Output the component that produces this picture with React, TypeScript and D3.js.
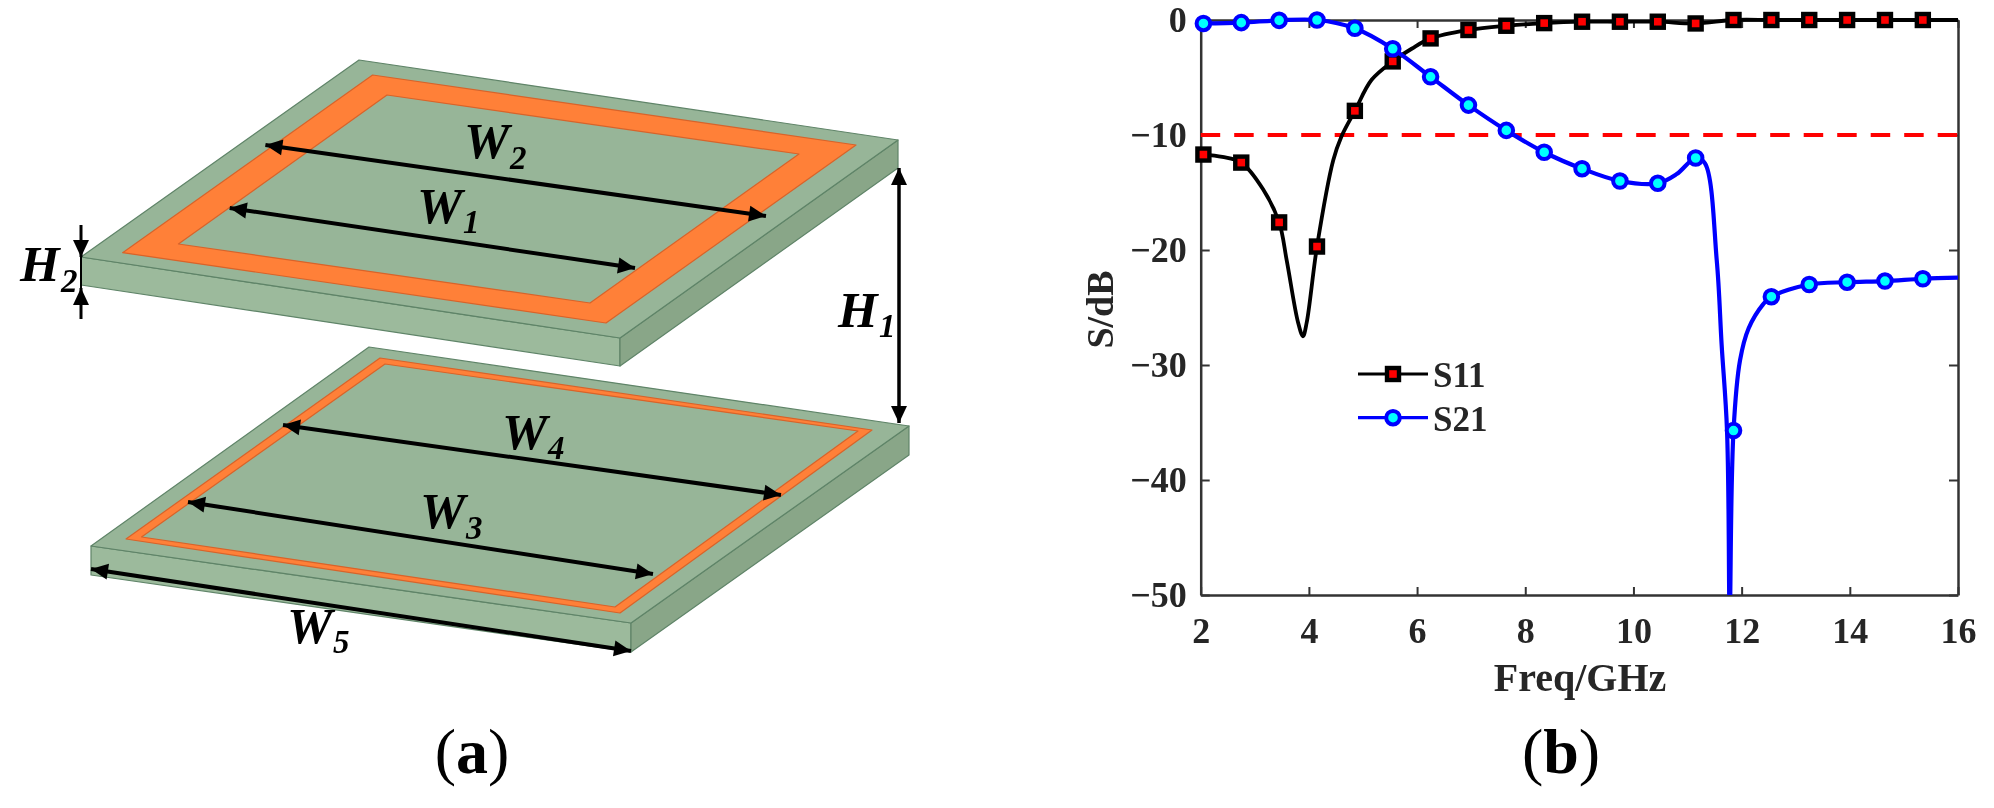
import * as d3 from 'd3';
import React, { useEffect, useRef } from 'react';

const SERIF = '"Liberation Serif", serif';

// ---- panel (b) values
const xTicks = [2, 4, 6, 8, 10, 12, 14, 16];
const yTicks = [0, -10, -20, -30, -40, -50];
const threshold = -10;

const markerFreq = [2.05, 2.75, 3.45, 4.15, 4.85, 5.55, 6.25, 6.95, 7.65, 8.35, 9.05, 9.75, 10.45, 11.15, 11.85, 12.55, 13.25, 13.95, 14.65, 15.35];
const s11Marker = [-11.7, -12.4, -17.6, -19.7, -7.9, -3.6, -1.6, -0.87, -0.5, -0.27, -0.15, -0.15, -0.15, -0.3, 0, 0, 0, 0, 0, 0];
const s21Marker = [-0.3, -0.23, -0.03, 0, -0.72, -2.5, -4.94, -7.4, -9.6, -11.5, -12.93, -14.0, -14.2, -12.0, -35.7, -24.06, -23.0, -22.8, -22.7, -22.5];

// extra points between the markers, where the curves bend hard
const s11ExtraFreq = [2.4, 3.15, 3.59, 3.8, 3.89, 3.96, 4.45, 4.6, 5.16, 5.9, 16];
const s11Extra = [-11.9, -14.7, -20.9, -26.3, -27.5, -26.3, -12.2, -10.15, -5.2, -2.5, 0];
const s21ExtraFreq = [10.8, 11.32, 11.54, 11.63, 11.73, 11.77, 11.78, 11.79, 11.97, 12.13, 12.4, 16];
const s21Extra = [-13.4, -12.45, -20.9, -28.2, -35.7, -50, -56, -50, -29.6, -26.8, -24.7, -22.4];

const legendLabels = ['S11', 'S21'];

// ---- panel (a) schematic outlines, [top, right, front, left]
const topBoard = [[359, 60], [898, 140], [620, 338], [81, 257]];
const topOuter = [[372.6, 75], [856, 145], [606, 323], [122.6, 252.7]];
const topInner = [[387, 95], [799, 154], [590, 303], [178.4, 244]];
const lowBoard = [[369, 347], [909, 426], [631, 623], [91, 546]];
const lowOuter = [[380, 358], [872, 430], [620, 613], [126, 539]];
const lowInner = [[385, 364], [858, 431], [615, 607], [141.5, 537]];

const arrows = [
	{ from: [265.4, 145], to: [766, 216], both: true, w: 4 },
	{ from: [229.7, 208], to: [635, 268], both: true, w: 4 },
	{ from: [283, 425], to: [781, 495], both: true, w: 4 },
	{ from: [188, 502], to: [653, 574], both: true, w: 4 },
	{ from: [91, 569], to: [631, 651], both: true, w: 4 },
	{ from: [899, 168], to: [899, 423], both: true, w: 3.5 },
	{ from: [81, 225], to: [81, 257], both: false, w: 3 },
	{ from: [81, 319], to: [81, 288], both: false, w: 3 },
];

const dimLabels = [
	{ main: 'W', sub: '2', x: 464, y: 158, sx: 510, sy: 169 },
	{ main: 'W', sub: '1', x: 417, y: 223, sx: 463, sy: 233 },
	{ main: 'W', sub: '4', x: 502, y: 449, sx: 548, sy: 459 },
	{ main: 'W', sub: '3', x: 420, y: 528, sx: 466, sy: 539 },
	{ main: 'W', sub: '5', x: 287, y: 643, sx: 333, sy: 653 },
	{ main: 'H', sub: '2', x: 20, y: 281, sx: 61, sy: 292 },
	{ main: 'H', sub: '1', x: 838, y: 327, sx: 879, sy: 337 },
];

const mergeCurve = (fa: number[], va: number[], fb: number[], vb: number[]) => {
	const pts = fa.map((f, i) => ({ f, v: va[i] })).concat(fb.map((f, i) => ({ f, v: vb[i] })));
	return pts.sort((a, b) => d3.ascending(a.f, b.f));
};

export default function App() {
	const ref = useRef<SVGSVGElement>(null);

	useEffect(() => {
		const svg = d3.select(ref.current);
		svg.selectAll('*').remove();

		drawSchematic(svg);
		drawPlot(svg);

		// captions
		const caption = (x: number, y: number, letter: string) => {
			const t = svg.append('text')
				.attr('x', x).attr('y', y)
				.attr('text-anchor', 'middle')
				.style('font-family', SERIF)
				.style('font-size', '64px')
				.attr('fill', '#000');
			t.append('tspan').text('(');
			t.append('tspan').style('font-weight', 700).text(letter);
			t.append('tspan').text(')');
		};
		caption(472, 773, 'a');
		caption(1561, 773, 'b');
	}, []);

	return (
		<svg ref={ref} width={1994} height={808} style={{ position: 'absolute', left: 0, top: 0, background: '#fff', filter: 'blur(0.6px)' }} />
	);
}

function drawSchematic(svg: any) {
	const poly = (pts: number[][], fill: string, stroke: string, sw = 1.2) =>
		svg.append('polygon')
			.attr('points', pts.map(p => p.join(',')).join(' '))
			.attr('fill', fill)
			.attr('stroke', stroke)
			.attr('stroke-width', sw)
			.attr('stroke-linejoin', 'round');

	const board = (b: number[][], outer: number[][], inner: number[][], th: number) => {
		const [top, right, front, left] = b;
		const down = (p: number[]) => [p[0], p[1] + th];
		poly([left, front, down(front), down(left)], '#9cba9c', '#5f8468');
		poly([front, right, down(right), down(front)], '#89a688', '#5f8468');
		poly([top, right, front, left], '#97b598', '#5f8468');
		poly(outer, '#ff8038', '#d8632a');
		poly(inner, '#97b598', '#d8632a');
	};

	board(topBoard, topOuter, topInner, 28);
	board(lowBoard, lowOuter, lowInner, 29);

	// short thickness line for H2
	svg.append('line')
		.attr('x1', 81).attr('y1', 257).attr('x2', 81).attr('y2', 288)
		.attr('stroke', '#000').attr('stroke-width', 2);

	const head = (tip: number[], from: number[]) => {
		const a = Math.atan2(tip[1] - from[1], tip[0] - from[0]);
		const len = 17, half = 8;
		const bx = tip[0] - len * Math.cos(a), by = tip[1] - len * Math.sin(a);
		const p = [
			tip,
			[bx - half * Math.sin(a), by + half * Math.cos(a)],
			[bx + half * Math.sin(a), by - half * Math.cos(a)],
		];
		svg.append('polygon').attr('points', p.map(q => q.join(',')).join(' ')).attr('fill', '#000');
	};

	arrows.forEach(d => {
		svg.append('line')
			.attr('x1', d.from[0]).attr('y1', d.from[1])
			.attr('x2', d.to[0]).attr('y2', d.to[1])
			.attr('stroke', '#000').attr('stroke-width', d.w);
		head(d.to, d.from);
		if (d.both) head(d.from, d.to);
	});

	dimLabels.forEach(d => {
		svg.append('text')
			.attr('x', d.x).attr('y', d.y)
			.style('font-family', SERIF).style('font-style', 'italic').style('font-weight', 700)
			.style('font-size', '51px')
			.text(d.main);
		svg.append('text')
			.attr('x', d.sx).attr('y', d.sy)
			.style('font-family', SERIF).style('font-style', 'italic').style('font-weight', 700)
			.style('font-size', '33px')
			.text(d.sub);
	});
}

function drawPlot(svg: any) {
	const x = d3.scaleLinear().domain([2, 16]).range([1200.7, 1958]);
	const y = d3.scaleLinear().domain([0, -50]).range([20, 595]);
	const axisColor = '#333';
	const textColor = '#262626';

	const styleAxis = (g: any, size: number) => {
		g.selectAll('.domain').attr('stroke', axisColor).attr('stroke-width', 2.5);
		g.selectAll('.tick line').attr('stroke', axisColor).attr('stroke-width', 2);
		g.selectAll('.tick text')
			.attr('fill', textColor)
			.style('font-family', SERIF).style('font-weight', 700).style('font-size', size + 'px');
	};

	// box: the labelled axes plus unlabelled copies on top and right
	const bottom = svg.append('g').attr('transform', `translate(0,${y(-50)})`)
		.call(d3.axisBottom(x).tickValues(xTicks).tickSizeInner(-8).tickSizeOuter(0).tickPadding(22).tickFormat(d3.format('d')));
	styleAxis(bottom, 36);

	const left = svg.append('g').attr('transform', `translate(${x(2)},0)`)
		.call(d3.axisLeft(y).tickValues(yTicks).tickSizeInner(-9).tickSizeOuter(0).tickPadding(14).tickFormat(d3.format('d')));
	styleAxis(left, 36);

	const top = svg.append('g').attr('transform', `translate(0,${y(0)})`)
		.call(d3.axisTop(x).tickValues(xTicks).tickSizeInner(-8).tickSizeOuter(0).tickFormat(() => ''));
	styleAxis(top, 36);

	const right = svg.append('g').attr('transform', `translate(${x(16)},0)`)
		.call(d3.axisRight(y).tickValues(yTicks).tickSizeInner(-9).tickSizeOuter(0).tickFormat(() => ''));
	styleAxis(right, 36);

	svg.append('text')
		.attr('x', 1580).attr('y', 691)
		.attr('text-anchor', 'middle')
		.attr('fill', textColor)
		.style('font-family', SERIF).style('font-weight', 700).style('font-size', '40px')
		.text('Freq/GHz');

	svg.append('text')
		.attr('transform', 'translate(1113,309.5) rotate(-90)')
		.attr('text-anchor', 'middle')
		.attr('fill', textColor)
		.style('font-family', SERIF).style('font-weight', 700).style('font-size', '38px')
		.text('S/dB');

	svg.append('line')
		.attr('x1', x(2)).attr('x2', x(16))
		.attr('y1', y(threshold)).attr('y2', y(threshold))
		.attr('stroke', '#ff0000').attr('stroke-width', 4)
		.attr('stroke-dasharray', '19.5 14');

	svg.append('clipPath').attr('id', 'plot-clip')
		.append('rect').attr('x', 1180).attr('y', 0).attr('width', 800).attr('height', y(-50));

	const line = d3.line<{ f: number; v: number }>()
		.x(d => x(d.f))
		.y(d => y(d.v))
		.curve(d3.curveCatmullRom.alpha(0.5));

	const squares = (g: any, px: number, py: number) =>
		g.append('rect')
			.attr('x', px - 6).attr('y', py - 6).attr('width', 12).attr('height', 12)
			.attr('fill', '#ff0000').attr('stroke', '#000').attr('stroke-width', 4.4);
	const circles = (g: any, px: number, py: number) =>
		g.append('circle')
			.attr('cx', px).attr('cy', py).attr('r', 6.8)
			.attr('fill', '#00ffff').attr('stroke', '#0000ff').attr('stroke-width', 4);

	svg.append('path')
		.attr('d', line(mergeCurve(markerFreq, s11Marker, s11ExtraFreq, s11Extra)))
		.attr('fill', 'none').attr('stroke', '#000').attr('stroke-width', 3.8);
	markerFreq.forEach((f, i) => squares(svg, x(f), y(s11Marker[i])));

	svg.append('path')
		.attr('clip-path', 'url(#plot-clip)')
		.attr('d', line(mergeCurve(markerFreq, s21Marker, s21ExtraFreq, s21Extra)))
		.attr('fill', 'none').attr('stroke', '#0000ff').attr('stroke-width', 4.2);
	markerFreq.forEach((f, i) => circles(svg, x(f), y(s21Marker[i])));

	// legend
	const legendY = [374, 417.7];
	const legendBaseline = [387, 431];
	legendLabels.forEach((label, i) => {
		svg.append('line')
			.attr('x1', 1358).attr('x2', 1428)
			.attr('y1', legendY[i]).attr('y2', legendY[i])
			.attr('stroke', i === 0 ? '#000' : '#0000ff').attr('stroke-width', 3.2);
		(i === 0 ? squares : circles)(svg, 1393, legendY[i]);
		svg.append('text')
			.attr('x', 1433).attr('y', legendBaseline[i])
			.attr('fill', textColor)
			.style('font-family', SERIF).style('font-weight', 700).style('font-size', '35px')
			.text(label);
	});
}
